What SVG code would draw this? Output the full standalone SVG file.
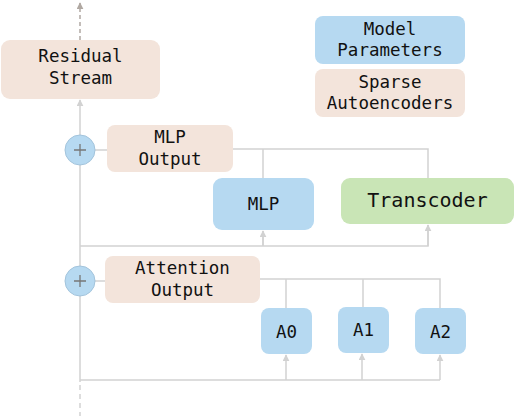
<svg xmlns="http://www.w3.org/2000/svg" width="516" height="416" viewBox="0 0 516 416">
<style>
.sae{fill:#f3e4db}
.mp{fill:#b6d9f1}
.tc{fill:#c9e5b6}
text{font-family:"DejaVu Sans Mono","Liberation Mono",monospace;font-size:17.5px;fill:#111;text-anchor:middle}
.ln{stroke:#d2d2d2;stroke-width:1.5;fill:none}
</style>
<defs>
<marker id="ah" viewBox="0 0 10 10" refX="9" refY="5" markerWidth="7" markerHeight="7" orient="auto-start-reverse" markerUnits="userSpaceOnUse"><path d="M0,0 L10,5 L0,10 z" fill="#d2d2d2"/></marker>
<marker id="ahd" viewBox="0 0 10 10" refX="9" refY="5" markerWidth="7" markerHeight="7" orient="auto-start-reverse" markerUnits="userSpaceOnUse"><path d="M0,0 L10,5 L0,10 z" fill="#b0a8a2"/></marker>
</defs>
<g id="connectors">
<line class="ln" x1="80" y1="40" x2="80" y2="3" stroke="#b0a8a2" style="stroke:#b0a8a2" stroke-dasharray="4,3" marker-end="url(#ahd)"/>
<line class="ln" x1="80" y1="382" x2="80" y2="100" marker-end="url(#ah)"/>
<line class="ln" x1="80" y1="385" x2="80" y2="416" stroke-dasharray="5,4"/>
<line class="ln" x1="95" y1="150" x2="107" y2="150"/>
<polyline class="ln" points="233,149 428,149 428,178"/>
<line class="ln" x1="263" y1="149" x2="263" y2="178"/>
<polyline class="ln" points="80,246 428,246 428,225"/>
<line class="ln" x1="263" y1="246" x2="263" y2="231"/>
<line class="ln" x1="263" y1="246" x2="263" y2="231" marker-end="url(#ah)"/>
<line class="ln" x1="428" y1="246" x2="428" y2="225" marker-end="url(#ah)"/>
<line class="ln" x1="95" y1="281" x2="105" y2="281"/>
<polyline class="ln" points="260,279 440,279 440,308"/>
<line class="ln" x1="286" y1="279" x2="286" y2="308"/>
<line class="ln" x1="363" y1="279" x2="363" y2="307"/>
<polyline class="ln" points="80,380 440,380"/>
<line class="ln" x1="286" y1="380" x2="286" y2="355" marker-end="url(#ah)"/>
<line class="ln" x1="362" y1="380" x2="362" y2="354" marker-end="url(#ah)"/>
<line class="ln" x1="440" y1="380" x2="440" y2="355" marker-end="url(#ah)"/>
</g>
<g id="residual-stream"><rect class="sae" x="1" y="40" width="159" height="59" rx="9"/><text x="80.5" y="62">Residual</text><text x="80.5" y="84">Stream</text></g>
<g id="model-parameters"><rect class="mp" x="315" y="16" width="150" height="48" rx="8"/><text x="390" y="35">Model</text><text x="390" y="56">Parameters</text></g>
<g id="sparse-autoencoders"><rect class="sae" x="315" y="69" width="150" height="48" rx="8"/><text x="390" y="88">Sparse</text><text x="390" y="109">Autoencoders</text></g>
<g id="plus-mlp"><circle cx="80" cy="150" r="15" fill="#b6d9f1" stroke="#a3c4dc" stroke-width="1"/><path d="M74,150 H86 M80,144 V156" stroke="#777" stroke-width="1.3"/></g>
<g id="mlp-output"><rect class="sae" x="107" y="125" width="126" height="47" rx="8"/><text x="170" y="143">MLP</text><text x="170" y="165">Output</text></g>
<g id="mlp"><rect class="mp" x="213" y="178" width="101" height="52" rx="9"/><text x="263.5" y="210">MLP</text></g>
<g id="transcoder"><rect class="tc" x="341" y="178" width="173" height="46" rx="9"/><text x="427.5" y="207" style="font-size:20px">Transcoder</text></g>
<g id="plus-attn"><circle cx="80" cy="281" r="15" fill="#b6d9f1" stroke="#a3c4dc" stroke-width="1"/><path d="M74,281 H86 M80,275 V287" stroke="#777" stroke-width="1.3"/></g>
<g id="attention-output"><rect class="sae" x="105" y="256" width="155" height="47" rx="8"/><text x="182.5" y="274">Attention</text><text x="182.5" y="296">Output</text></g>
<g id="a0"><rect class="mp" x="261" y="308" width="51" height="46" rx="8"/><text x="286.5" y="338">A0</text></g>
<g id="a1"><rect class="mp" x="338" y="307" width="51" height="46" rx="8"/><text x="363.5" y="336">A1</text></g>
<g id="a2"><rect class="mp" x="415" y="308" width="51" height="46" rx="8"/><text x="440.5" y="338">A2</text></g>
</svg>
